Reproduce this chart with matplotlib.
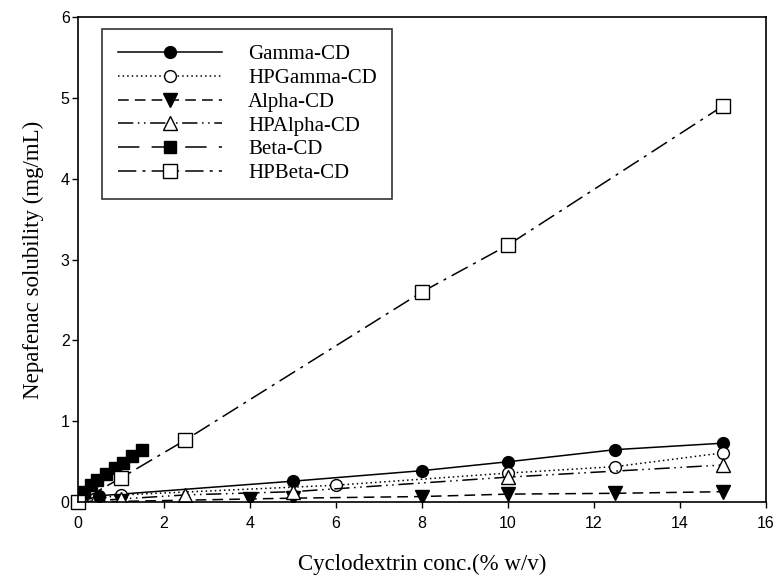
import numpy as np
import matplotlib
matplotlib.use('Agg')
import matplotlib.pyplot as plt

# dati
gamma_x = [0, 0.5, 5, 8, 10, 12.5, 15]
gamma_y = [0, 0.08, 0.26, 0.39, 0.50, 0.65, 0.73]
hpgamma_x = [0, 1, 6, 10, 12.5, 15]
hpgamma_y = [0, 0.09, 0.21, 0.36, 0.44, 0.61]
alpha_x = [0, 1, 4, 5, 8, 10, 12.5, 15]
alpha_y = [0, 0.01, 0.04, 0.05, 0.07, 0.10, 0.11, 0.13]
hpalpha_x = [0, 1, 2.5, 5, 10, 15]
hpalpha_y = [0, 0.04, 0.09, 0.13, 0.31, 0.46]
beta_x = [0, 0.15, 0.3, 0.45, 0.65, 0.85, 1.05, 1.25, 1.5]
beta_y = [0.05, 0.13, 0.21, 0.28, 0.35, 0.42, 0.49, 0.57, 0.65]
hpbeta_x = [0, 1, 2.5, 8, 10, 15]
hpbeta_y = [0, 0.30, 0.77, 2.60, 3.18, 4.90]

serif = ['Liberation Serif', 'DejaVu Serif']
sans = ['Liberation Sans', 'DejaVu Sans']

fig = plt.figure(figsize=(7.8, 5.86), dpi=100)
ax = fig.add_axes([0.1, 0.143, 0.882, 0.828])

ms = 8.5
ax.plot(gamma_x, gamma_y, color='black', linestyle='-', lw=1.1, marker='o',
        ms=ms, mfc='black', mec='black', label='Gamma-CD')
ax.plot(hpgamma_x, hpgamma_y, color='black', linestyle=(0, (1, 2)), lw=1.1, marker='o',
        ms=ms, mfc='white', mec='black', label='HPGamma-CD')
ax.plot(alpha_x, alpha_y, color='black', linestyle=(0, (7, 4)), lw=1.1, marker='v',
        ms=ms + 1, mfc='black', mec='black', label='Alpha-CD')
ax.plot(hpalpha_x, hpalpha_y, color='black', linestyle=(0, (10, 3, 1, 3, 1, 3)), lw=1.1,
        marker='^', ms=ms + 1, mfc='white', mec='black', label='HPAlpha-CD')
ax.plot(beta_x, beta_y, color='black', linestyle=(0, (14, 8)), lw=1.1, marker='s',
        ms=ms, mfc='black', mec='black', label='Beta-CD')
ax.plot(hpbeta_x, hpbeta_y, color='black', linestyle=(0, (12, 4, 2, 4)), lw=1.1, marker='s',
        ms=ms + 1, mfc='white', mec='black', label='HPBeta-CD', clip_on=False)

ax.set_xlim(0, 16)
ax.set_ylim(0, 6)
ax.set_xticks(np.arange(0, 17, 2))
ax.set_yticks(np.arange(0, 7, 1))
ax.tick_params(direction='out', length=4, width=1, labelsize=11.5)
ax.tick_params(axis='y', pad=2)
ax.tick_params(axis='x', pad=6)
for lab in ax.get_xticklabels() + ax.get_yticklabels():
    lab.set_family(sans)
for s in ax.spines.values():
    s.set_linewidth(1.2)

ax.set_xlabel('Cyclodextrin conc.(% w/v)', family=serif, fontsize=16.5, labelpad=16)
ax.set_ylabel('Nepafenac solubility (mg/mL)', family=serif, fontsize=16.5, labelpad=12)

leg = ax.legend(loc='upper left', bbox_to_anchor=(0.035, 0.975), borderaxespad=0,
                prop={'family': serif, 'size': 15},
                frameon=True, fancybox=False, edgecolor='black', handlelength=5.0,
                borderpad=0.75, labelspacing=0.2, handletextpad=1.25)
leg.get_frame().set_linewidth(1.2)

plt.savefig('out.png', dpi=100)
